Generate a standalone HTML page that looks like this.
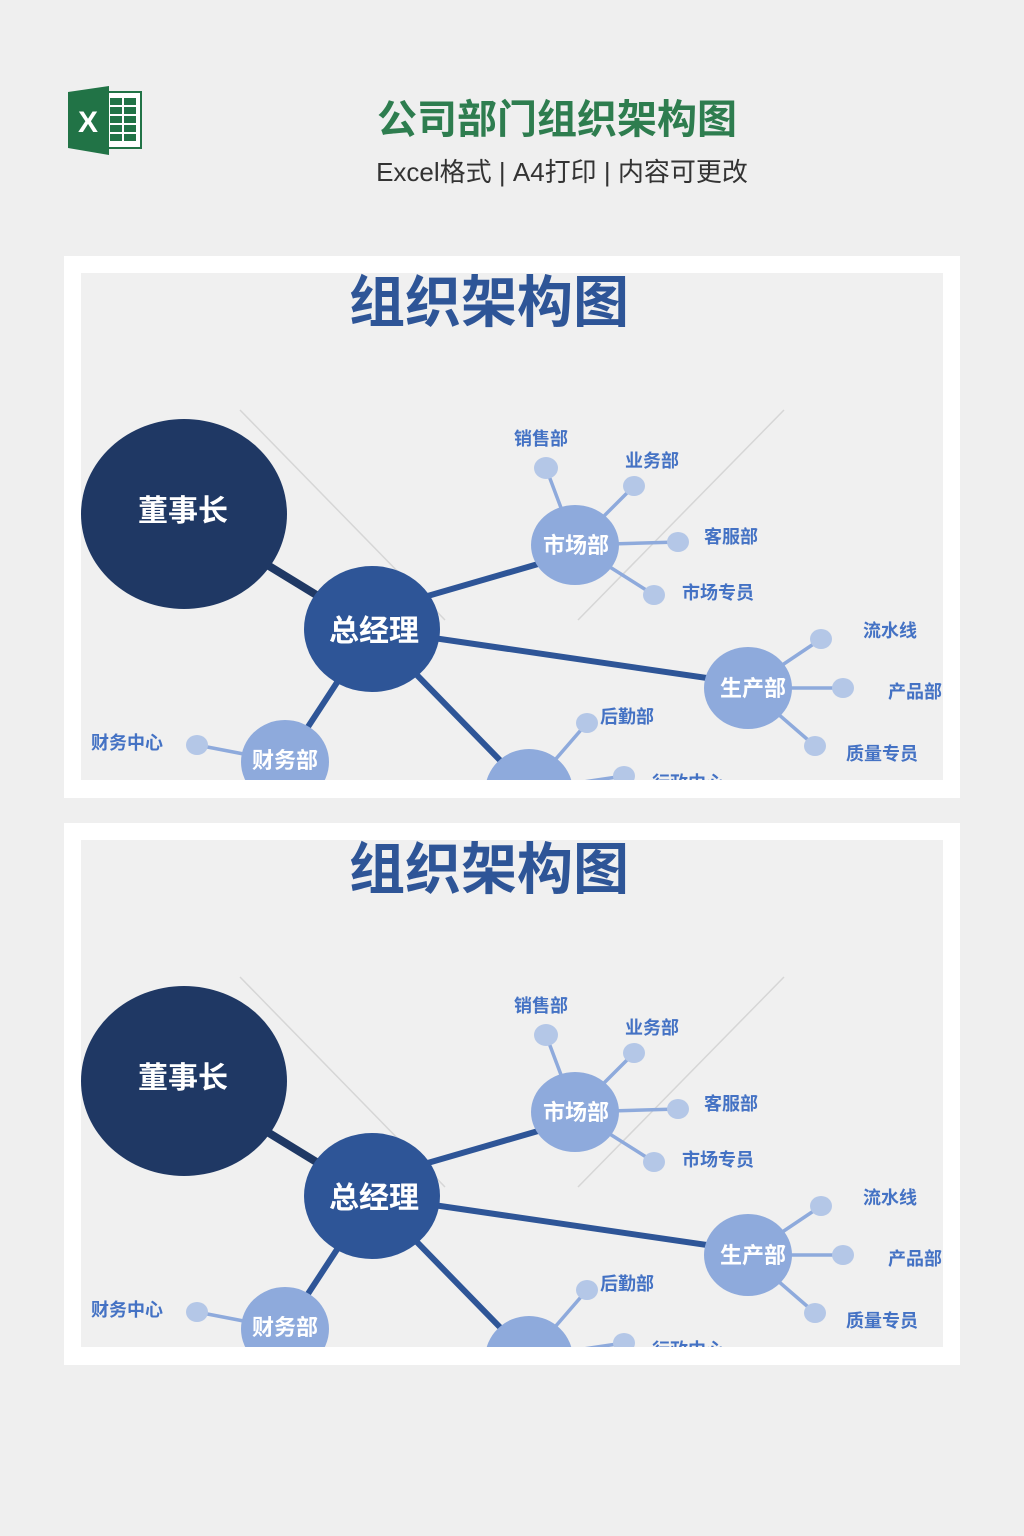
<!DOCTYPE html>
<html><head><meta charset="utf-8"><style>
html,body{margin:0;padding:0;background:#efefef;width:1024px;height:1536px;overflow:hidden}
svg{display:block}
text{font-family:"Liberation Sans","Noto Sans CJK SC",sans-serif;font-weight:bold}
.lb{fill:#4472c4;font-size:18px;text-anchor:middle}
.nd{fill:#fff;font-size:22px;text-anchor:middle}
.big{fill:#fff;font-size:30px;text-anchor:middle}
</style></head><body>
<svg width="1024" height="1536" viewBox="0 0 1024 1536">
<rect width="1024" height="1536" fill="#efefef"/>
<rect x="104" y="92" width="37" height="56" fill="#fff" stroke="#217346" stroke-width="2"/>
<g fill="#217346">
<rect x="110" y="98" width="12" height="7"/><rect x="124" y="98" width="12" height="7"/>
<rect x="110" y="107" width="12" height="7"/><rect x="124" y="107" width="12" height="7"/>
<rect x="110" y="116" width="12" height="7"/><rect x="124" y="116" width="12" height="7"/>
<rect x="110" y="125" width="12" height="7"/><rect x="124" y="125" width="12" height="7"/>
<rect x="110" y="134" width="12" height="7"/><rect x="124" y="134" width="12" height="7"/>
</g>
<polygon points="68,92 109,86 109,155 68,148" fill="#217346"/>
<text x="88" y="132" fill="#fff" font-size="30" text-anchor="middle">X</text>
<text x="557" y="133" fill="#2e7d4f" font-size="40" text-anchor="middle">公司部门组织架构图</text>
<text x="562" y="181" fill="#333" font-size="26" text-anchor="middle" style="font-weight:normal">Excel格式 | A4打印 | 内容可更改</text>
<defs><clipPath id="c1"><rect x="81" y="273" width="862" height="507"/></clipPath>
<clipPath id="c2"><rect x="81" y="840" width="862" height="507"/></clipPath></defs>

<rect x="64" y="256" width="896" height="542" fill="#fff"/>
<rect x="81" y="273" width="862" height="507" fill="#f0f0f0"/>
<g clip-path="url(#c1)">
<g>
<line x1="240" y1="410" x2="445" y2="620" stroke="#d6d6d6" stroke-width="1.5"/>
<line x1="784" y1="410" x2="578" y2="620" stroke="#d6d6d6" stroke-width="1.5"/>
<text x="489" y="322" fill="#2e5597" font-size="56" text-anchor="middle">组织架构图</text>
<g stroke="#8eaadc" stroke-width="3.5">
<line x1="575" y1="545" x2="546" y2="468"/><line x1="575" y1="545" x2="634" y2="486"/>
<line x1="575" y1="545" x2="678" y2="542"/><line x1="575" y1="545" x2="654" y2="595"/>
<line x1="748" y1="688" x2="821" y2="639"/><line x1="748" y1="688" x2="843" y2="688"/>
<line x1="748" y1="688" x2="815" y2="746"/>
<line x1="285" y1="762" x2="197" y2="745"/>
<line x1="529" y1="790" x2="587" y2="723"/><line x1="529" y1="790" x2="624" y2="776"/>
</g>
<g stroke="#2e5597" stroke-width="6">
<line x1="400" y1="604" x2="545" y2="562"/><line x1="372" y1="629" x2="748" y2="684"/>
<line x1="372" y1="629" x2="285" y2="762"/><line x1="372" y1="629" x2="529" y2="790"/>
</g>
<line x1="184" y1="514" x2="372" y2="629" stroke="#1f3864" stroke-width="8"/>
<ellipse cx="184" cy="514" rx="103" ry="95" fill="#1f3864"/>
<ellipse cx="372" cy="629" rx="68" ry="63" fill="#2e5597"/>
<g fill="#8eaadc">
<ellipse cx="575" cy="545" rx="44" ry="40"/><ellipse cx="748" cy="688" rx="44" ry="41"/>
<ellipse cx="285" cy="762" rx="44" ry="42"/><ellipse cx="529" cy="792" rx="44" ry="43"/>
</g>
<g fill="#b4c7e7">
<ellipse cx="546" cy="468" rx="12" ry="11"/><ellipse cx="634" cy="486" rx="11" ry="10"/>
<ellipse cx="678" cy="542" rx="11" ry="10"/><ellipse cx="654" cy="595" rx="11" ry="10"/>
<ellipse cx="821" cy="639" rx="11" ry="10"/><ellipse cx="843" cy="688" rx="11" ry="10"/>
<ellipse cx="815" cy="746" rx="11" ry="10"/><ellipse cx="197" cy="745" rx="11" ry="10"/>
<ellipse cx="587" cy="723" rx="11" ry="10"/><ellipse cx="624" cy="776" rx="11" ry="10"/>
</g>
<text class="big" x="183" y="521">董事长</text>
<text class="big" x="374" y="641">总经理</text>
<text class="nd" x="576" y="553">市场部</text>
<text class="nd" x="753" y="696">生产部</text>
<text class="nd" x="285" y="768">财务部</text>
<text class="lb" x="541" y="445">销售部</text><text class="lb" x="652" y="467">业务部</text>
<text class="lb" x="731" y="543">客服部</text><text class="lb" x="718" y="599">市场专员</text>
<text class="lb" x="890" y="637">流水线</text><text class="lb" x="915" y="698">产品部</text>
<text class="lb" x="882" y="760">质量专员</text><text class="lb" x="127" y="749">财务中心</text>
<text class="lb" x="627" y="723">后勤部</text><text class="lb" x="688" y="789">行政中心</text>
</g>
</g>

<rect x="64" y="823" width="896" height="542" fill="#fff"/>
<rect x="81" y="840" width="862" height="507" fill="#f0f0f0"/>
<g clip-path="url(#c2)">
<g transform="translate(0,567)">
<line x1="240" y1="410" x2="445" y2="620" stroke="#d6d6d6" stroke-width="1.5"/>
<line x1="784" y1="410" x2="578" y2="620" stroke="#d6d6d6" stroke-width="1.5"/>
<text x="489" y="322" fill="#2e5597" font-size="56" text-anchor="middle">组织架构图</text>
<g stroke="#8eaadc" stroke-width="3.5">
<line x1="575" y1="545" x2="546" y2="468"/><line x1="575" y1="545" x2="634" y2="486"/>
<line x1="575" y1="545" x2="678" y2="542"/><line x1="575" y1="545" x2="654" y2="595"/>
<line x1="748" y1="688" x2="821" y2="639"/><line x1="748" y1="688" x2="843" y2="688"/>
<line x1="748" y1="688" x2="815" y2="746"/>
<line x1="285" y1="762" x2="197" y2="745"/>
<line x1="529" y1="790" x2="587" y2="723"/><line x1="529" y1="790" x2="624" y2="776"/>
</g>
<g stroke="#2e5597" stroke-width="6">
<line x1="400" y1="604" x2="545" y2="562"/><line x1="372" y1="629" x2="748" y2="684"/>
<line x1="372" y1="629" x2="285" y2="762"/><line x1="372" y1="629" x2="529" y2="790"/>
</g>
<line x1="184" y1="514" x2="372" y2="629" stroke="#1f3864" stroke-width="8"/>
<ellipse cx="184" cy="514" rx="103" ry="95" fill="#1f3864"/>
<ellipse cx="372" cy="629" rx="68" ry="63" fill="#2e5597"/>
<g fill="#8eaadc">
<ellipse cx="575" cy="545" rx="44" ry="40"/><ellipse cx="748" cy="688" rx="44" ry="41"/>
<ellipse cx="285" cy="762" rx="44" ry="42"/><ellipse cx="529" cy="792" rx="44" ry="43"/>
</g>
<g fill="#b4c7e7">
<ellipse cx="546" cy="468" rx="12" ry="11"/><ellipse cx="634" cy="486" rx="11" ry="10"/>
<ellipse cx="678" cy="542" rx="11" ry="10"/><ellipse cx="654" cy="595" rx="11" ry="10"/>
<ellipse cx="821" cy="639" rx="11" ry="10"/><ellipse cx="843" cy="688" rx="11" ry="10"/>
<ellipse cx="815" cy="746" rx="11" ry="10"/><ellipse cx="197" cy="745" rx="11" ry="10"/>
<ellipse cx="587" cy="723" rx="11" ry="10"/><ellipse cx="624" cy="776" rx="11" ry="10"/>
</g>
<text class="big" x="183" y="521">董事长</text>
<text class="big" x="374" y="641">总经理</text>
<text class="nd" x="576" y="553">市场部</text>
<text class="nd" x="753" y="696">生产部</text>
<text class="nd" x="285" y="768">财务部</text>
<text class="lb" x="541" y="445">销售部</text><text class="lb" x="652" y="467">业务部</text>
<text class="lb" x="731" y="543">客服部</text><text class="lb" x="718" y="599">市场专员</text>
<text class="lb" x="890" y="637">流水线</text><text class="lb" x="915" y="698">产品部</text>
<text class="lb" x="882" y="760">质量专员</text><text class="lb" x="127" y="749">财务中心</text>
<text class="lb" x="627" y="723">后勤部</text><text class="lb" x="688" y="789">行政中心</text>
</g>
</g>
</svg>
</body></html>
